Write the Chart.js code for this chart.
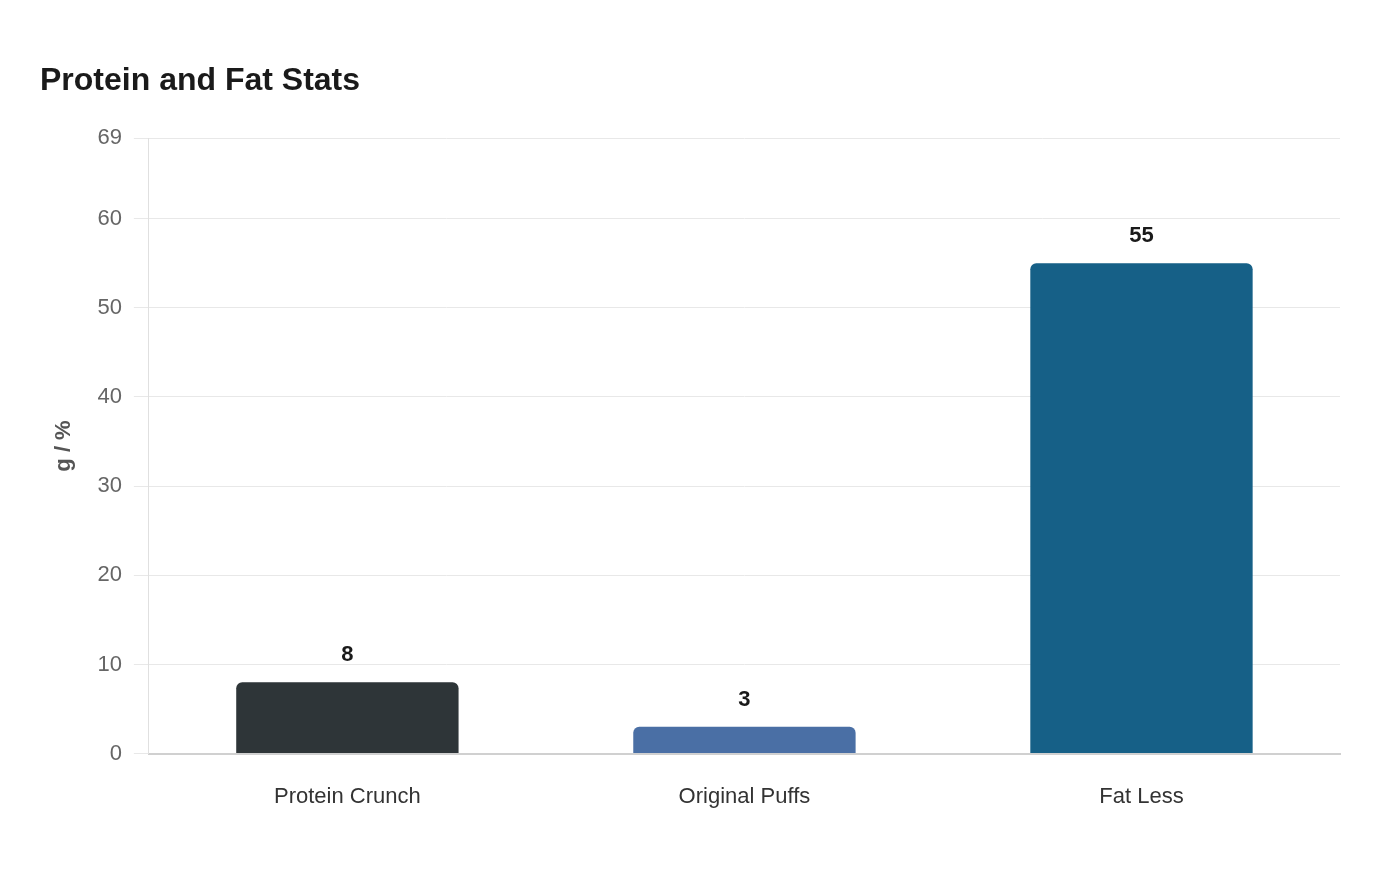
<!DOCTYPE html>
<html>
<head>
<meta charset="utf-8">
<script src="https://cdn.jsdelivr.net/npm/chart.js@4/dist/chart.umd.min.js"></script>
<style>
html,body{margin:0;padding:0;background:#fff;}
#wrap{width:1400px;height:880px;position:relative;}
</style>
</head>
<body>
<div id="wrap"><canvas id="c" width="1400" height="880"></canvas></div>
<script>
const categories = ["Protein Crunch", "Original Puffs", "Fat Less"];
const values = [8, 3, 55];
const barColors = ["#2e3538", "#4a6fa5", "#166087"];
const yTicks = [0, 10, 20, 30, 40, 50, 60, 69];
const yMax = 69;

const valueLabels = {
  id: 'valueLabels',
  afterDatasetsDraw(chart) {
    const ctx = chart.ctx;
    const meta = chart.getDatasetMeta(0);
    ctx.save();
    ctx.font = 'bold 22px "Liberation Sans", Arial, sans-serif';
    ctx.fillStyle = '#1a1a1a';
    ctx.textAlign = 'center';
    ctx.textBaseline = 'middle';
    meta.data.forEach((bar, i) => {
      ctx.fillText(String(values[i]), bar.x, bar.y - 27);
    });
    ctx.restore();
  }
};

Chart.defaults.font.family = '"Liberation Sans", Arial, sans-serif';

new Chart(document.getElementById('c'), {
  type: 'bar',
  data: {
    labels: categories,
    datasets: [{
      data: values,
      backgroundColor: barColors,
      borderRadius: 6,
      borderSkipped: 'start',
      barPercentage: 0.7,
      categoryPercentage: 0.8
    }]
  },
  options: {
    responsive: false,
    animation: false,
    devicePixelRatio: 1,
    layout: { padding: { left: 40, right: 60, top: 62, bottom: 48 } },
    plugins: {
      legend: { display: false },
      tooltip: { enabled: false },
      title: {
        display: true,
        text: 'Protein and Fat Stats',
        align: 'start',
        color: '#1a1a1a',
        font: { size: 32, weight: 'bold' },
        padding: { top: 0, bottom: 38 }
      }
    },
    scales: {
      x: {
        grid: { display: false },
        border: { color: '#d0d0d0', width: 2 },
        ticks: { color: '#333', font: { size: 22 }, padding: 22 }
      },
      y: {
        min: 0,
        max: yMax,
        afterBuildTicks(axis) { axis.ticks = yTicks.map(v => ({ value: v })); },
        grid: { color: '#e8e8e8', tickLength: 15, lineWidth: 1 },
        border: { color: '#e0e0e0', width: 1 },
        ticks: { color: '#666', font: { size: 22 }, padding: 12 },
        title: {
          display: true,
          text: 'g / %',
          color: '#555',
          font: { size: 22, weight: 'bold' },
          padding: { top: 11, bottom: 8 }
        }
      }
    }
  },
  plugins: [valueLabels]
});
</script>
</body>
</html>
